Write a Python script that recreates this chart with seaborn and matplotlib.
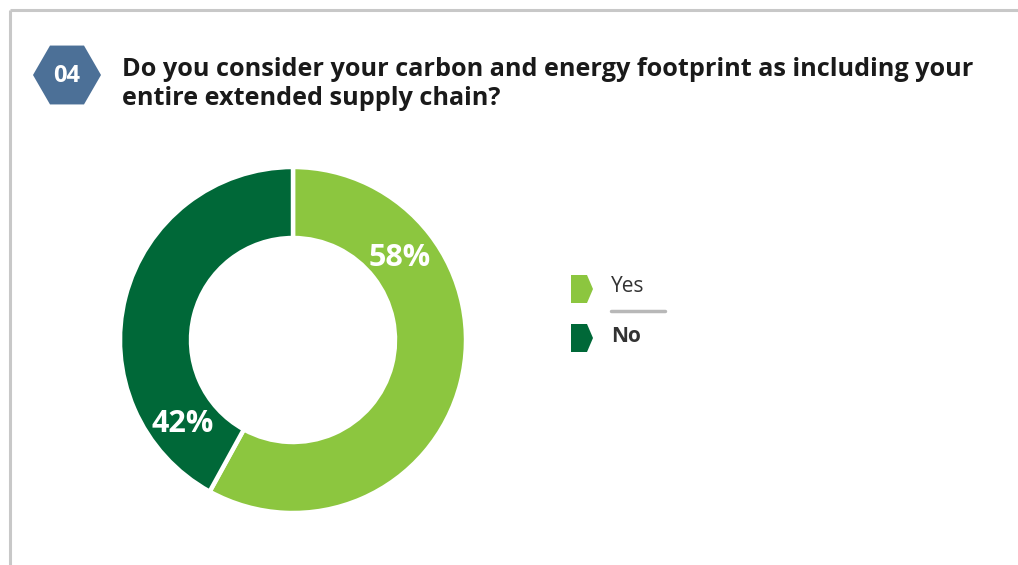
import matplotlib
matplotlib.use("Agg")
import matplotlib.pyplot as plt
import seaborn as sns
from matplotlib.patches import Polygon, RegularPolygon

# data
labels = ["Yes", "No"]
shares = [58, 42]
colors = ["#8cc63f", "#006838"]
question_no = "04"
title = "Do you consider your carbon and energy footprint as including your\nentire extended supply chain?"

sns.set_theme(style="white")
plt.rcParams["font.family"] = ["Open Sans", "DejaVu Sans"]

W, H = 1018, 565
fig = plt.figure(figsize=(W / 100, H / 100), dpi=100)

# overlay in pixel coordinates for frame, header and legend
bg = fig.add_axes([0, 0, 1, 1])
bg.set_xlim(0, W)
bg.set_ylim(H, 0)
bg.axis("off")

bg.plot([10, W], [10, 10], color="#c8c8c8", lw=2.2, solid_capstyle="butt")
bg.plot([10, 10], [10, H], color="#c8c8c8", lw=2.2, solid_capstyle="butt")

hexa = RegularPolygon((67, 75), numVertices=6, radius=34, orientation=0.5236,
                      facecolor="#4c7097", edgecolor="none")
bg.add_patch(hexa)
bg.text(67, 76, question_no, color="white", fontsize=17, fontweight="bold",
        ha="center", va="center")
bg.text(122, 84, title, color="#1a1a1a", fontsize=18.2, fontweight="bold",
        ha="left", va="center", linespacing=1.25)

# donut
ax = fig.add_axes([118 / W, 50 / H, 350 / W, 350 / H])
wedges, _ = ax.pie(shares, colors=colors, startangle=90, counterclock=False,
                   radius=173 / 175,
                   wedgeprops=dict(width=71 / 175, edgecolor="white", linewidth=3.2))
ax.set_aspect("equal")
ax.set_xlim(-1, 1)
ax.set_ylim(-1, 1)

pct_pos = [(0.61, 0.47), (-0.63, -0.48)]
for (x, y), s in zip(pct_pos, shares):
    ax.text(x, y, f"{s}%", color="white", fontsize=22, fontweight="bold",
            ha="center", va="center")

# legend
ys = [289, 338]
for y, lab, c in zip(ys, labels, colors):
    arrow = Polygon([(571, y - 14), (587, y - 14), (593, y), (587, y + 14), (571, y + 14)],
                    closed=True, facecolor=c, edgecolor="none")
    bg.add_patch(arrow)
    bg.text(611, y - 2, lab, fontsize=15, color="#333333", ha="left", va="center",
            fontweight="bold" if lab == "No" else "normal")
bg.plot([611, 665], [311, 311], color="#b8b8b8", lw=2.5)

fig.savefig("out.png", dpi=100)
